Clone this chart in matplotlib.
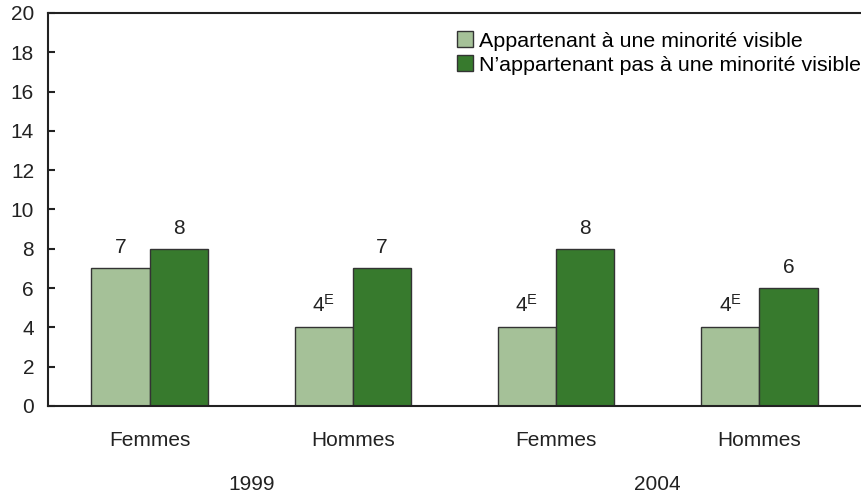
import matplotlib
matplotlib.use("Agg")
import matplotlib.pyplot as plt
import matplotlib.transforms as mtransforms
import numpy as np

plt.rcParams['font.family'] = ['Liberation Sans', 'DejaVu Sans']
plt.rcParams['mathtext.fontset'] = 'custom'
plt.rcParams['mathtext.rm'] = 'Liberation Sans'
plt.rcParams['mathtext.it'] = 'Liberation Sans'

categories = ["Femmes", "Hommes", "Femmes", "Hommes"]
years = ["1999", "2004"]
series_names = ["Appartenant à une minorité visible",
                "N\u2019appartenant pas à une minorité visible"]
vis_min = [7, 4, 4, 4]
non_vis_min = [8, 7, 8, 6]
vis_labels = ["7", "4E", "4E", "4E"]
non_vis_labels = ["8", "7", "8", "6"]

colors = ["#a5c198", "#377a2d"]
edge = "#333333"
FS = 15

fig = plt.figure(figsize=(8.61, 4.95), dpi=100)
ax = fig.add_axes([0.0557, 0.1798, 0.9443, 0.794])

x = np.arange(len(categories))
w = 0.287
b1 = ax.bar(x - w/2, vis_min, w, color=colors[0], edgecolor=edge, linewidth=1.0, label=series_names[0])
b2 = ax.bar(x + w/2, non_vis_min, w, color=colors[1], edgecolor=edge, linewidth=1.0, label=series_names[1])

def fmt(lbl):
    if lbl.endswith("E"):
        return r"$\mathrm{" + lbl[:-1] + r"}^{\mathrm{E}}$"
    return lbl

for bars, labels in ((b1, vis_labels), (b2, non_vis_labels)):
    for rect, lbl in zip(bars, labels):
        ax.annotate(fmt(lbl), (rect.get_x() + rect.get_width()/2, rect.get_height()),
                    xytext=(0, 8), textcoords="offset points", ha="center", va="bottom",
                    fontsize=FS, color="#222222")

ax.set_xlim(-0.5, 3.5)
ax.set_ylim(0, 20)
ax.set_yticks(range(0, 21, 2))
ax.set_xticks([])
ax.tick_params(axis='y', direction='in', length=5, width=1.5, labelsize=FS, pad=10,
               colors='#222222')
for s in ['left', 'top', 'bottom']:
    ax.spines[s].set_linewidth(1.5)
    ax.spines[s].set_color('#222222')
ax.spines['right'].set_visible(False)

trans = mtransforms.blended_transform_factory(ax.transData, fig.transFigure)
for xi, c in zip(x, categories):
    ax.text(xi, 1 - 440/495, c, transform=trans, ha="center", va="center", fontsize=FS, color="#222222")
for i, yr in enumerate(years):
    ax.text(2*i + 0.5, 1 - 484/495, yr, transform=trans, ha="center", va="center", fontsize=FS, color="#222222")

ax.legend(loc="upper right", bbox_to_anchor=(1.0, 0.953), frameon=False, fontsize=15.4,
          handlelength=0.75, handleheight=0.75, handletextpad=0.3, labelspacing=0.22,
          borderaxespad=0.0, borderpad=0.0)

fig.savefig("out.png", dpi=100)
